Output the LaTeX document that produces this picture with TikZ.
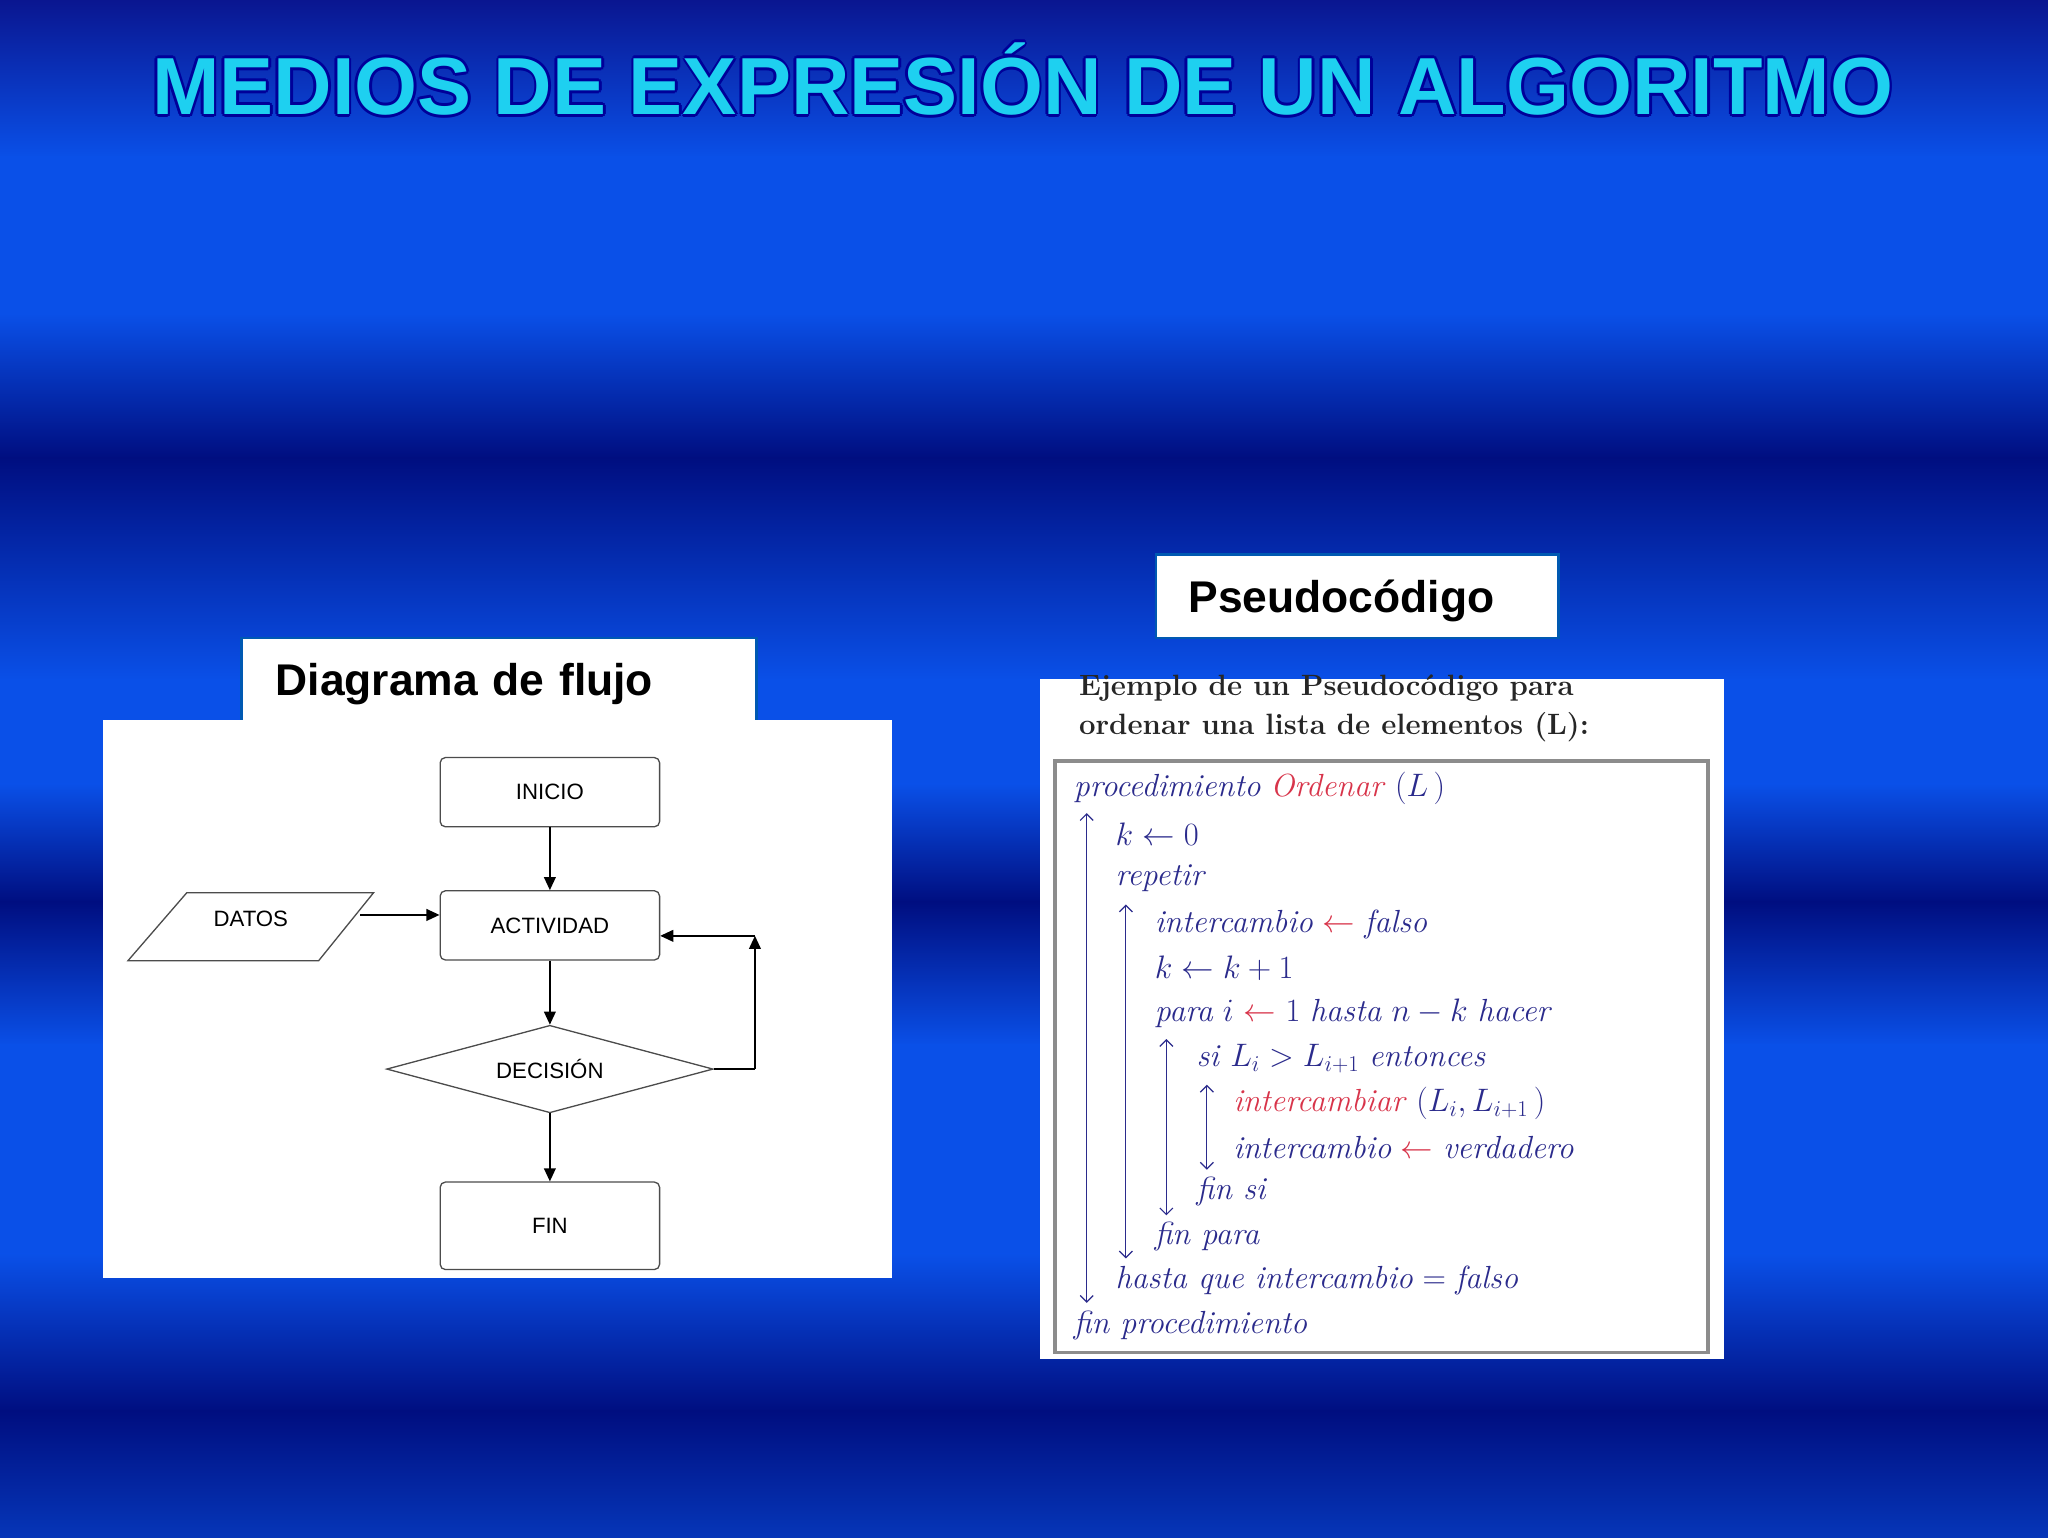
\documentclass[tikz,border=0pt]{standalone}
\usepackage{fontspec}
\usepackage{amsmath}
\setsansfont{Liberation Sans}
\usetikzlibrary{shapes.geometric,arrows.meta}
\definecolor{pc}{HTML}{2B2B8C}
\definecolor{pr}{HTML}{D8344A}
\definecolor{ttl}{HTML}{1ED0F0}
\definecolor{bdark}{HTML}{000E80}
\definecolor{bbright}{HTML}{0A50E8}
\definecolor{bmid}{HTML}{0636B8}
\definecolor{btop}{HTML}{0A1690}
\tikzset{
 lbl/.style={draw=blue!50!cyan!70!black,line width=2pt,fill=white,font=\sffamily\bfseries\fontsize{34}{40}\selectfont,anchor=north west,inner sep=0pt,text depth=0pt},
 fbox/.style={draw=black!70,line width=1pt,rounded corners=4pt,minimum width=168pt,font=\sffamily\fontsize{17}{20}\selectfont},
 arr/.style={-{Triangle[length=10pt,width=9pt]},line width=1.2pt},
 ps/.style={anchor=west,text=pc,font=\fontsize{24.5}{28}\selectfont,inner sep=0pt},
 br/.style={{Straight Barb[length=5pt]}-{Straight Barb[length=5pt]},line width=0.9pt,pc},
 ttlf/.style={font=\sffamily\bfseries\fontsize{62}{70}\selectfont,inner sep=0pt}
}
\begin{document}
\begin{tikzpicture}[x=1pt,y=-1pt]
\foreach \ya/\ca/\yb/\cb in {0/btop/120/bbright,120/bbright/240/bbright,240/bbright/350/bdark,350/bdark/520/bbright,520/bbright/600/bbright,600/bbright/690/bdark,690/bdark/800/bbright,800/bbright/960/bbright,960/bbright/1080/bdark,1080/bdark/1176/bmid}
  \shade[top color=\ca,bottom color=\cb,shading angle=0] (0,\ya-0.5) rectangle (1568,\yb+0.5);
\useasboundingbox (0,0) rectangle (1568,1176);
\foreach \dx/\dy in {-2/0,2/0,0/-2,0/2,-1.5/-1.5,1.5/1.5,-1.5/1.5,1.5/-1.5}
  \node[ttlf,text=blue!60!black] at (783+\dx,60+\dy) {MEDIOS DE EXPRESIÓN DE UN ALGORITMO};
\node[ttlf,text=ttl] (title) at (783,60) {MEDIOS DE EXPRESIÓN DE UN ALGORITMO};
% flowchart panel
\node[lbl,minimum width=394pt,minimum height=64pt,text width=374pt,align=left] (dl) at (184,487) {\hspace*{16pt}Diagrama de flujo};
\fill[white] (79,551) rectangle (683,978);
\node[fbox,minimum height=53pt] (ini) at (421,606) {INICIO};
\node[fbox,minimum height=53pt] (act) at (421,708) {ACTIVIDAD};
\node[fbox,minimum height=67pt] (fin) at (421,938) {FIN};
\draw[black!70,line width=1pt] (143,683) -- (286,683) -- (244,735) -- (98,735) -- cycle;
\node[font=\sffamily\fontsize{17}{20}\selectfont] (dat) at (192,703) {DATOS};
\coordinate (dr) at (276,700);
\node[draw=black!70,line width=1pt,diamond,aspect=3.7,minimum width=250pt,minimum height=67pt,inner sep=0pt,font=\sffamily\fontsize{17}{20}\selectfont] (dec) at (421,818) {DECISIÓN};
\coordinate (c1) at (578,818);
\coordinate (c2) at (578,716);
\draw[arr] (ini) -- (act);
\draw[arr] (act) -- (dec);
\draw[arr] (dec) -- (fin);
\draw[arr] (dr) -- (act.west|-dr);
\draw[line width=1.2pt] (dec.east) -- (c1);
\draw[arr] (c1) -- (c2);
\draw[arr] (c2) -- (act.east|-c2);
% pseudocode
\node[lbl,minimum width=308pt,minimum height=64pt,text width=290pt,align=left] (pl) at (884,423) {\hspace*{16pt}Pseudocódigo};
\fill[white] (796,519) rectangle (1320,1040);
\node[anchor=north west,inner sep=0pt,align=left,font=\bfseries\fontsize{22.5}{30}\selectfont,text=black!85] (hd) at (826,516) {Ejemplo de un Pseudocódigo para\\ordenar una lista de elementos (L):};
\draw[black!45,line width=3pt] (808,582) rectangle (1308,1035);
\node[ps] (l1) at (822,603) {\textit{procedimiento} \textcolor{pr}{\textit{Ordenar}} $(L\,)$};
\node[ps] (l2) at (854,638) {$k \leftarrow 0$};
\node[ps] (l3) at (854,672) {\textit{repetir}};
\node[ps] (l4) at (884,707) {\textit{intercambio} \textcolor{pr}{$\leftarrow$} $\mathit{falso}$};
\node[ps] (l5) at (884,741) {$k \leftarrow k+1$};
\node[ps] (l6) at (884,775) {\textit{para} $i$ \textcolor{pr}{$\leftarrow$} $1$ \textit{hasta} $n-k$ \textit{hacer}};
\node[ps] (l7) at (916,810) {\textit{si} $L_i > L_{i+1}$ \textit{entonces}};
\node[ps] (l8) at (944,844) {\textcolor{pr}{\textit{intercambiar}} $(L_i, L_{i+1}\,)$};
\node[ps] (l9) at (944,878) {\textit{intercambio} \textcolor{pr}{$\leftarrow$} \textit{verdadero}};
\node[ps] (l10) at (916,912) {\textit{fin si}};
\node[ps] (l11) at (884,946) {\textit{fin para}};
\node[ps] (l12) at (854,980) {\textit{hasta que intercambio} $=$ $\mathit{falso}$};
\node[ps] (l13) at (822,1014) {\textit{fin procedimiento}};
\draw[br] (832,997) -- (832,622);
\draw[br] (862,963) -- (862,692);
\draw[br] (893,930) -- (893,795);
\draw[br] (924,895) -- (924,830);
\end{tikzpicture}
\end{document}
